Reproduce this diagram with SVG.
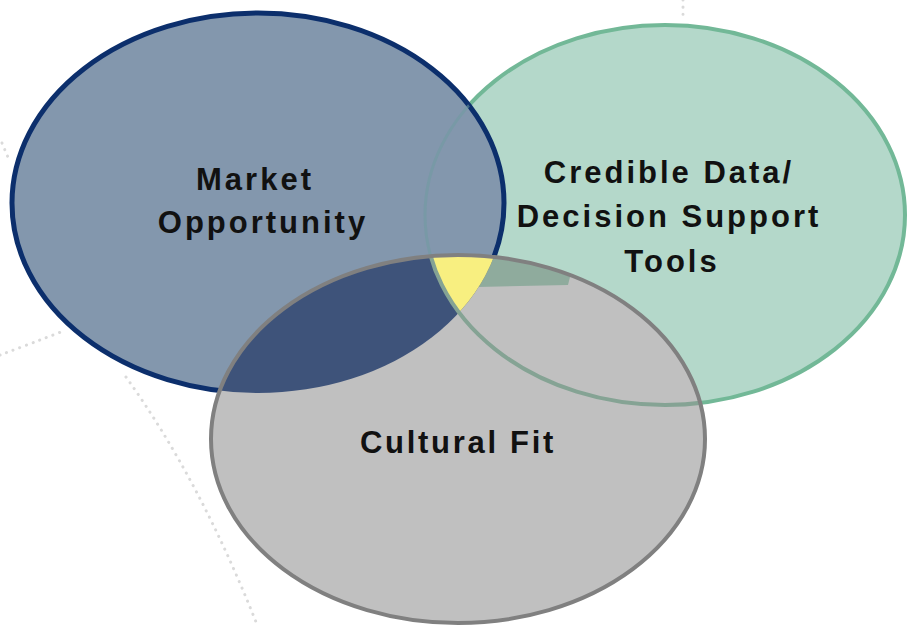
<svg xmlns="http://www.w3.org/2000/svg" width="909" height="627" viewBox="0 0 909 627">
  <style>
    .label { font-family: "Liberation Sans", Arial, sans-serif; font-weight: bold; font-size: 31px; letter-spacing: 3px; fill: #111; text-anchor: middle; }
    .dots { fill: none; stroke: #dadada; stroke-width: 3; stroke-linecap: round; stroke-dasharray: 0.1 7; }
  </style>
  <defs>
    <ellipse id="shape-market" cx="258" cy="203" rx="246" ry="190"/>
    <ellipse id="shape-data" cx="665" cy="215" rx="240" ry="190"/>
    <ellipse id="shape-culture" cx="458" cy="439" rx="247" ry="184"/>
    <clipPath id="clip-market"><use href="#shape-market"/></clipPath>
    <clipPath id="clip-data"><use href="#shape-data"/></clipPath>
    <clipPath id="clip-culture"><use href="#shape-culture"/></clipPath>
  </defs>

  <rect width="909" height="627" fill="#ffffff"/>

  <!-- faint dotted background arcs -->
  <g id="background">
    <path class="dots" d="M0,355 Q30,344 66,330"/>
    <path class="dots" d="M126,377 Q200,480 258,627"/>
    <path class="dots" d="M2,143 L10,162"/>
    <path class="dots" d="M683,0 L683,20"/>
  </g>

  <!-- Credible Data / Decision Support Tools -->
  <g id="node-data">
    <use href="#shape-data" fill="#b4d8ca" stroke="#72b897" stroke-width="4"/>
  </g>

  <!-- Market Opportunity -->
  <g id="node-market">
    <use href="#shape-market" fill="#8397ad" stroke="#0c2f6c" stroke-width="5"/>
    <!-- outline of the data circle showing through -->
    <g clip-path="url(#clip-market)">
      <use href="#shape-data" fill="none" stroke="#6f9aa0" stroke-width="3" opacity="0.55"/>
    </g>
  </g>

  <!-- Cultural Fit -->
  <g id="node-culture">
    <use href="#shape-culture" fill="#c0c0c0"/>
    <g clip-path="url(#clip-culture)">
      <!-- greenish strip just under the top edge -->
      <path d="M480,245 L578,245 L568,285 L478,287 Z" fill="#8fab9d"/>
      <!-- market / culture overlap -->
      <use href="#shape-market" fill="#3e537a"/>
      <!-- all three overlap -->
      <g clip-path="url(#clip-data)">
        <use href="#shape-market" fill="#f8ef80"/>
      </g>
      <!-- data outline inside culture -->
      <use href="#shape-data" fill="none" stroke="#85a394" stroke-width="4"/>
    </g>
    <use href="#shape-culture" fill="none" stroke="#808080" stroke-width="4"/>
  </g>

  <g id="labels">
    <text class="label" x="255" y="190">Market</text>
    <text class="label" x="263" y="233">Opportunity</text>
    <text class="label" x="669" y="183">Credible Data/</text>
    <text class="label" x="669" y="227">Decision Support</text>
    <text class="label" x="672" y="272">Tools</text>
    <text class="label" x="458" y="453" style="letter-spacing:2.7px">Cultural Fit</text>
  </g>
</svg>
